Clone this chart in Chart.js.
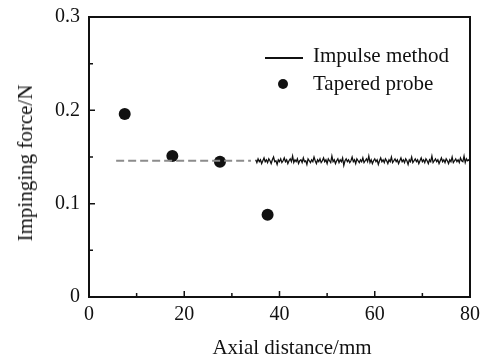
<!DOCTYPE html>
<html>
<head>
<meta charset="utf-8">
<script src="https://cdn.jsdelivr.net/npm/chart.js@4"></script>
<style>
  html,body{margin:0;padding:0;background:#fff;}
  #wrap{position:relative;width:480px;height:363px;overflow:hidden;}
  canvas{position:absolute;left:0;top:0;}
  .t{position:absolute;font-family:"Liberation Serif","Times New Roman",serif;font-size:21px;color:#111;white-space:nowrap;line-height:24px;}
</style>
</head>
<body>
<div id="wrap">
  <canvas id="c" width="480" height="363"></canvas>
  <div class="t" id="ytitle" style="left:25px;top:163px;transform:translate(-50%,-50%) rotate(-90deg);">Impinging force/N</div>
  <div class="t" id="xtitle" style="left:292px;top:347px;transform:translate(-50%,-50%);">Axial distance/mm</div>
  <div style="position:absolute;left:265px;top:57px;width:38px;height:2px;background:#111;"></div>
  <div class="t" style="left:313px;top:43px;">Impulse method</div>
  <div style="position:absolute;left:278px;top:79px;width:10px;height:10px;border-radius:50%;background:#111;"></div>
  <div class="t" style="left:313px;top:71px;">Tapered probe</div>
</div>
<script>
// Tapered probe measurements
const probeX = [7.5, 17.5, 27.5, 37.5];
const probeY = [0.196, 0.151, 0.145, 0.088];

// Impulse method trace (x from 35 to 80, step 0.25)
const impulseStartX = 35;
const impulseStepX = 0.25;
const impulseY = [
  0.147,0.144,0.148,0.145,0.147,0.143,0.146,0.149,0.145,0.147,
  0.144,0.148,0.146,0.143,0.147,0.150,0.145,0.146,0.142,0.147,
  0.145,0.148,0.144,0.146,0.149,0.145,0.147,0.143,0.146,0.148,
  0.145,0.151,0.144,0.147,0.145,0.148,0.143,0.146,0.147,0.144,
  0.149,0.145,0.146,0.142,0.148,0.146,0.144,0.147,0.145,0.150,
  0.146,0.143,0.147,0.145,0.148,0.144,0.146,0.149,0.145,0.147,
  0.143,0.148,0.146,0.144,0.151,0.145,0.147,0.143,0.146,0.148,
  0.144,0.147,0.145,0.149,0.141,0.146,0.148,0.145,0.147,0.144,
  0.146,0.150,0.145,0.147,0.143,0.148,0.146,0.144,0.147,0.145,
  0.149,0.144,0.146,0.148,0.145,0.151,0.144,0.147,0.143,0.146,
  0.148,0.145,0.147,0.142,0.146,0.149,0.145,0.147,0.144,0.148,
  0.146,0.143,0.147,0.145,0.150,0.144,0.146,0.148,0.145,0.147,
  0.143,0.146,0.149,0.145,0.147,0.144,0.148,0.146,0.142,0.147,
  0.145,0.150,0.144,0.146,0.148,0.145,0.147,0.143,0.146,0.149,
  0.145,0.147,0.144,0.148,0.146,0.143,0.147,0.145,0.151,0.144,
  0.146,0.148,0.145,0.147,0.143,0.146,0.149,0.145,0.147,0.144,
  0.148,0.146,0.143,0.147,0.145,0.150,0.144,0.146,0.148,0.145,
  0.147,0.144,0.149,0.146,0.145,0.151,0.144,0.148,0.146,0.147,
  0.145
];

// Dashed reference level
const dashX = [5.7, 34];
const dashY = [0.146, 0.146];

// Axis ticks
const xMajor = [0, 20, 40, 60, 80];
const xMinor = [10, 30, 50, 70];
const yMajor = [0, 0.1, 0.2, 0.3];
const yMinor = [0.05, 0.15, 0.25];

const impulseData = impulseY.map((y, i) => ({x: impulseStartX + i * impulseStepX, y}));
const probeData = probeX.map((x, i) => ({x, y: probeY[i]}));
const dashData = dashX.map((x, i) => ({x, y: dashY[i]}));

const frame = {
  id: 'frame',
  afterDatasetsDraw(chart) {
    const {ctx, chartArea: a, scales: {x, y}} = chart;
    ctx.save();
    ctx.strokeStyle = '#111';
    ctx.lineWidth = 2;
    ctx.strokeRect(a.left, a.top, a.right - a.left, a.bottom - a.top);
    ctx.lineWidth = 1.5;
    ctx.beginPath();
    xMajor.forEach(v => { const p = x.getPixelForValue(v); ctx.moveTo(p, a.bottom); ctx.lineTo(p, a.bottom - 6); });
    xMinor.forEach(v => { const p = x.getPixelForValue(v); ctx.moveTo(p, a.bottom); ctx.lineTo(p, a.bottom - 4); });
    yMajor.forEach(v => { const p = y.getPixelForValue(v); ctx.moveTo(a.left, p); ctx.lineTo(a.left + 6, p); });
    yMinor.forEach(v => { const p = y.getPixelForValue(v); ctx.moveTo(a.left, p); ctx.lineTo(a.left + 4, p); });
    ctx.stroke();
    ctx.restore();
  }
};

const tickFont = {family: '"Liberation Serif", "Times New Roman", serif', size: 20};

new Chart(document.getElementById('c'), {
  type: 'scatter',
  data: {
    datasets: [
      {label: 'Impulse method', data: impulseData, showLine: true, pointRadius: 0, borderColor: '#111', borderWidth: 1.3, tension: 0},
      {label: 'level', data: dashData, showLine: true, pointRadius: 0, borderColor: '#8c8c8c', borderWidth: 1.8, borderDash: [8, 4]},
      {label: 'Tapered probe', data: probeData, pointRadius: 6, pointBackgroundColor: '#111', pointBorderColor: '#111', pointBorderWidth: 0}
    ]
  },
  options: {
    responsive: false,
    animation: false,
    layout: {padding: {left: 0, right: 10, top: 17, bottom: 0}},
    plugins: {legend: {display: false}, tooltip: {enabled: false}},
    scales: {
      x: {
        type: 'linear', min: 0, max: 80,
        grid: {display: false, drawTicks: false},
        border: {display: false},
        ticks: {stepSize: 20, font: tickFont, color: '#111', padding: 6, maxRotation: 0},
        afterFit(s) { s.height = 66; s.paddingLeft = 0; s.paddingRight = 0; }
      },
      y: {
        type: 'linear', min: 0, max: 0.3,
        grid: {display: false, drawTicks: false},
        border: {display: false},
        ticks: {stepSize: 0.1, font: tickFont, color: '#111', padding: 9,
          callback: v => (Math.round(v * 10) / 10).toString()},
        afterFit(s) { s.width = 89; s.paddingTop = 0; s.paddingBottom = 0; }
      }
    }
  },
  plugins: [frame]
});
</script>
</body>
</html>
